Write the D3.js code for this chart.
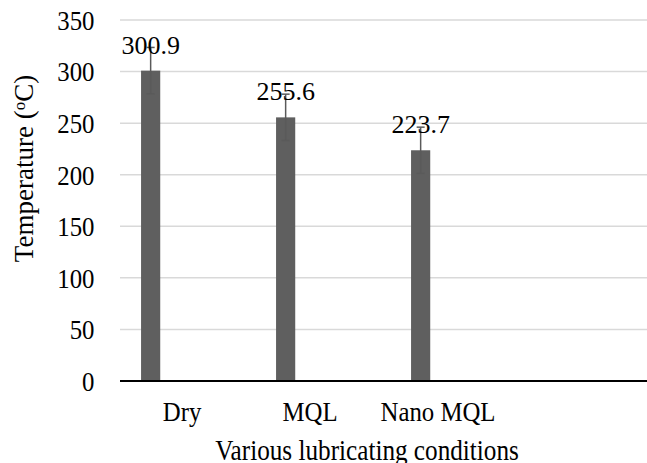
<!DOCTYPE html>
<html><head><meta charset="utf-8">
<script src="https://cdn.jsdelivr.net/npm/d3@7"></script>
<style>html,body{margin:0;padding:0;background:#fff;}svg{display:block;}</style>
</head><body>
<svg id="c" width="647" height="463"></svg>
<script>
const categories = ["Dry", "MQL", "Nano MQL"];
const values = [300.9, 255.6, 223.7];
const errors = [22.5, 22.5, 22.4];
const yTicks = [0, 50, 100, 150, 200, 250, 300, 350];
const xTitle = "Various lubricating conditions";
const yTitle = "Temperature (";

const W = 647, H = 463;
const svg = d3.select("#c");
const FONT = "'Liberation Serif','Times New Roman',serif";
const SY = 1.13;

const y = d3.scaleLinear().domain([0, 350]).range([381, 20]);
const slots = d3.scaleBand().domain([...categories, "_"]).range([120, 660]);
const xl = d3.scalePoint().domain(categories).range([182, 438]);

const barX = c => slots(c) + slots.bandwidth() * 0.156;
const barW = slots.bandwidth() * 0.142;

// gridlines
svg.append("g").selectAll("line").data(yTicks.filter(t => t > 0)).join("line")
  .attr("x1", 120).attr("x2", W)
  .attr("y1", d => y(d)).attr("y2", d => y(d))
  .attr("stroke", "#d9d9d9").attr("stroke-width", 1.5);

// y tick labels
svg.append("g").selectAll("text").data(yTicks).join("text")
  .attr("transform", d => `translate(94.5,${y(d)}) scale(1,${SY})`)
  .attr("text-anchor", "end").attr("dy", "0.35em")
  .attr("font-family", FONT).attr("font-size", 24.8).attr("fill", "#000")
  .text(d => d);

// bars
svg.append("g").selectAll("rect").data(categories).join("rect")
  .attr("x", c => barX(c)).attr("width", barW)
  .attr("y", (c, i) => y(values[i])).attr("height", (c, i) => y(0) - y(values[i]))
  .attr("fill", "#5f5f5f");

// error bars
const eg = svg.append("g").attr("stroke", "#5a5a5a").attr("stroke-width", 1.5);
categories.forEach((c, i) => {
  const cx = barX(c) + barW / 2;
  eg.append("line").attr("x1", cx).attr("x2", cx)
    .attr("y1", y(values[i] + errors[i])).attr("y2", y(values[i] - errors[i]));
  [values[i] + errors[i], values[i] - errors[i]].forEach(v => {
    eg.append("line").attr("x1", cx - 4).attr("x2", cx + 4)
      .attr("y1", y(v)).attr("y2", y(v));
  });
});

// axis line
svg.append("line").attr("x1", 120).attr("x2", W)
  .attr("y1", y(0)).attr("y2", y(0)).attr("stroke", "#000").attr("stroke-width", 2);

// data labels
svg.append("g").selectAll("text").data(categories).join("text")
  .attr("x", c => barX(c) + barW / 2)
  .attr("y", (c, i) => y(values[i]) - 17)
  .attr("text-anchor", "middle")
  .attr("font-family", FONT).attr("font-size", 26).attr("fill", "#000")
  .text((c, i) => values[i].toFixed(1));

// x category labels
svg.append("g").selectAll("text").data(categories).join("text")
  .attr("transform", c => `translate(${xl(c)},421) scale(1,${SY})`)
  .attr("text-anchor", "middle")
  .attr("font-family", FONT).attr("font-size", 24.8).attr("fill", "#000")
  .text(c => c);

// x title
svg.append("text")
  .attr("transform", `translate(367,459.5) scale(1,${SY})`)
  .attr("text-anchor", "middle")
  .attr("font-family", FONT).attr("font-size", 25.2).attr("fill", "#000")
  .text(xTitle);

// y title
const yt = svg.append("text")
  .attr("transform", "translate(33,168.5) rotate(-90)")
  .attr("text-anchor", "middle")
  .attr("font-family", FONT).attr("font-size", 27).attr("fill", "#000");
yt.append("tspan").text(yTitle);
yt.append("tspan").attr("font-size", 17).attr("dy", "-0.45em").text("o");
yt.append("tspan").attr("dy", "0.3em").text("C)");
</script>
</body></html>
